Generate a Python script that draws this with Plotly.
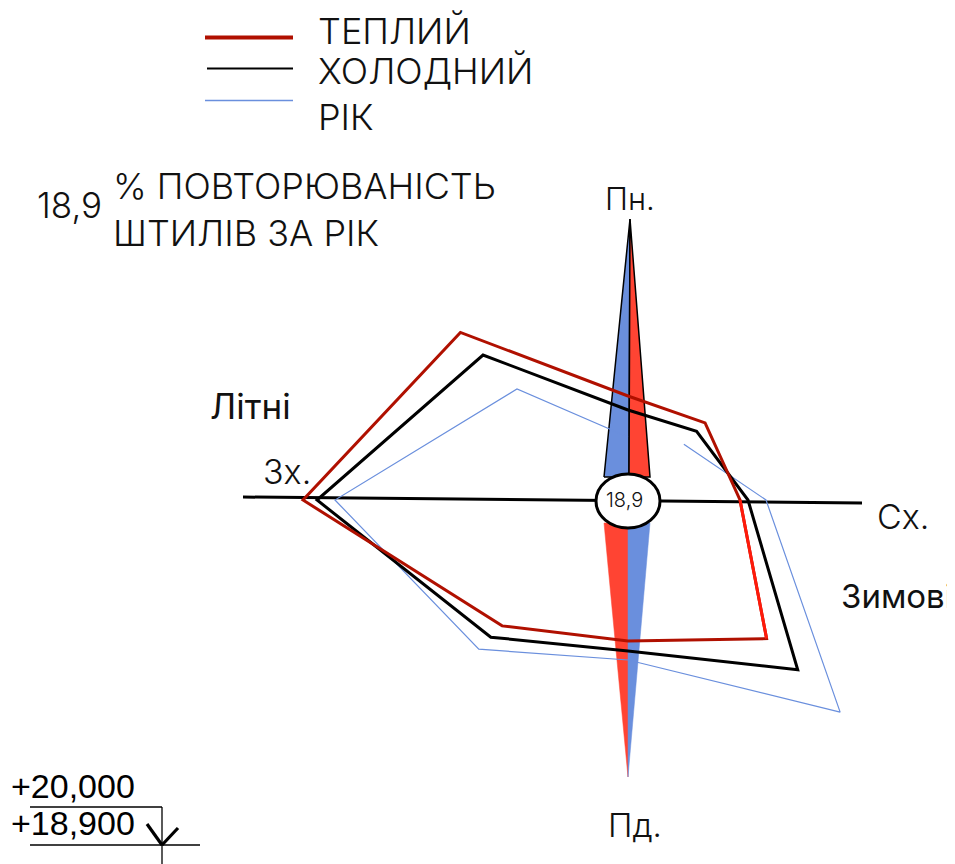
import numpy as np
import plotly.graph_objects as go

# ---------------- data ----------------
directions = ["Пн.", "ПнСх.", "Сх.", "ПдСх.", "Пд.", "ПдЗх.", "Зх.", "ПнЗх."]
angles_deg = [0, 45, 90, 135, 180, 225, 270, 315]
warm_season = [10.4, 10.9, 11.2, 19.6, 14.1, 17.8, 32.5, 23.7]   # ТЕПЛИЙ
cold_season = [9.0, 9.7, 12.0, 24.0, 15.1, 19.4, 31.1, 20.5]     # ХОЛОДНИЙ
whole_year = [6.3, 7.9, 13.8, 30.0, 16.0, 21.1, 29.3, 15.7]      # РІК
calm_label = "18,9"
needle_lengths = [28.1, 27.7]          # north / south needle
needle_base = [2.3, 2.2]               # base radius, half width
axis_extent = [38.5, 23.4]             # west / east ends of E-W axis line
level_labels = ["+20,000", "+18,900"]
legend_labels = ["ТЕПЛИЙ", "ХОЛОДНИЙ", "РІК"]

# --------------- helpers ---------------
OFF = 8                  # page body margin
WF, HF = 955 - OFF, 864 - OFF
CX, CY = 628, 500        # pixel position of rose centre (page pixels)
S = 10.0                 # pixels per unit


def px(x, y):
    return (x - CX) / S, (CY - y) / S


def polar_xy(r, deg):
    a = np.radians(np.asarray(deg, dtype=float))
    r = np.asarray(r, dtype=float)
    return r * np.sin(a), r * np.cos(a)


DARK_RED = "#b01000"
BRIGHT_RED = "#ff1a0a"
BLUE = "#6a8fdd"
NEEDLE_RED = "#ff4433"

fig = go.Figure()

# E-W axis line
fig.add_trace(go.Scatter(x=[-axis_extent[0], axis_extent[1]], y=[0.3, -0.3],
                         mode="lines", line=dict(color="black", width=3),
                         hoverinfo="skip", showlegend=False))

# Needle
nl, sl = needle_lengths
br, hw = needle_base
fig.add_trace(go.Scatter(x=[-hw - 0.2, 0.2, 0.1, -hw - 0.2], y=[br, nl, br, br], fill="toself",
                         fillcolor=BLUE, mode="lines", line=dict(color="black", width=1.5),
                         hoverinfo="skip", showlegend=False))
fig.add_trace(go.Scatter(x=[0.1, 0.2, hw, 0.1], y=[br, nl, br, br], fill="toself",
                         fillcolor=NEEDLE_RED, mode="lines", line=dict(color="black", width=1.5),
                         hoverinfo="skip", showlegend=False))
fig.add_trace(go.Scatter(x=[-hw - 0.2, 0, 0, -hw - 0.2], y=[-br, -sl, -br, -br], fill="toself",
                         fillcolor=NEEDLE_RED, mode="lines", line=dict(color=NEEDLE_RED, width=0.5),
                         hoverinfo="skip", showlegend=False))
fig.add_trace(go.Scatter(x=[0, 0, hw, 0], y=[-br, -sl, -br, -br], fill="toself",
                         fillcolor=BLUE, mode="lines", line=dict(color=BLUE, width=0.5),
                         hoverinfo="skip", showlegend=False))

# Year (open polyline: segment N -> NE not drawn)
order_year = [1, 2, 3, 4, 5, 6, 7, 0]
yx, yy = polar_xy([whole_year[i] for i in order_year], [angles_deg[i] for i in order_year])
fig.add_trace(go.Scatter(x=yx, y=yy, mode="lines", line=dict(color=BLUE, width=1.2),
                         hoverinfo="skip", showlegend=False))

# Cold season
cx_, cy_ = polar_xy(cold_season + cold_season[:1], angles_deg + angles_deg[:1])
fig.add_trace(go.Scatter(x=cx_, y=cy_, mode="lines", line=dict(color="black", width=3),
                         hoverinfo="skip", showlegend=False))

# Warm season
wx, wy = polar_xy(warm_season + warm_season[:1], angles_deg + angles_deg[:1])
fig.add_trace(go.Scatter(x=wx, y=wy, mode="lines", line=dict(color=DARK_RED, width=3),
                         hoverinfo="skip", showlegend=False))
fig.add_trace(go.Scatter(x=wx[2:4], y=wy[2:4], mode="lines", line=dict(color=BRIGHT_RED, width=3),
                         hoverinfo="skip", showlegend=False))

shapes = []
# centre circle (calm)
x0, y0 = px(596, 474)
x1, y1 = px(660, 528)
shapes.append(dict(type="circle", xref="x", yref="y", x0=x0, x1=x1, y0=y1, y1=y0,
                   fillcolor="white", line=dict(color="black", width=3), layer="above"))

# legend samples
for (xa, xb, yv), col, wd in zip([(205, 293, 37.5), (207, 293, 68.5), (205, 293, 100.5)],
                                 [DARK_RED, "black", BLUE], [4, 2, 1.5]):
    a = px(xa, yv)
    b = px(xb, yv)
    shapes.append(dict(type="line", xref="x", yref="y", x0=a[0], y0=a[1], x1=b[0], y1=b[1],
                       line=dict(color=col, width=wd)))

# level mark (bottom left)
for (xa, ya, xb, yb, wd) in [(30, 807, 162, 807, 1.3), (162, 807, 162, 864, 1.3),
                             (30, 845, 200, 845, 1.3), (147, 824, 162, 845, 3.2),
                             (162, 845, 178, 828, 3.2)]:
    a = px(xa, ya)
    b = px(xb, yb)
    shapes.append(dict(type="line", xref="x", yref="y", x0=a[0], y0=a[1], x1=b[0], y1=b[1],
                       line=dict(color="black", width=wd)))

LIGHT = "Inter"
annotations = []


def add_text(text, x, y, size, xanchor="left", family=LIGHT, weight=300, color="#111", pad=1):
    ax, ay = px(x, y)
    annotations.append(dict(text=text, x=ax, y=ay, xref="x", yref="y", showarrow=False,
                            xanchor=xanchor, yanchor="middle", borderpad=pad,
                            font=dict(family=family, size=size, color=color, weight=weight)))


add_text(legend_labels[0], 316, 31, 36)
add_text(legend_labels[1], 316, 71, 36)
add_text(legend_labels[2], 316, 117, 36)
add_text(calm_label, 35, 205, 35)
add_text("% ПОВТОРЮВАНІСТЬ", 111, 186, 36)
add_text("ШТИЛІВ ЗА РІК", 111, 233, 36)
add_text(directions[0], 630, 198, 31, xanchor="center")
add_text(directions[4], 635, 825, 33, xanchor="center")
add_text(directions[6], 261, 471, 34)
add_text(directions[2], 875, 516, 34)
add_text("Зимові", 839, 596, 33, weight=400)
add_text("Літні", 208, 406, 35, weight=400)
add_text(calm_label, 624, 500, 20, xanchor="center")
add_text(level_labels[0], 10, 786, 34, family="Liberation Sans", weight=400, color="black", pad=0)
add_text(level_labels[1], 10, 823, 34, family="Liberation Sans", weight=400, color="black", pad=0)

xr0, yr1 = px(OFF, OFF)
xr1, yr0 = px(OFF + WF, OFF + HF)
fig.update_layout(
    width=WF, height=HF,
    margin=dict(l=0, r=0, t=0, b=0),
    paper_bgcolor="white", plot_bgcolor="white",
    xaxis=dict(range=[xr0, xr1], visible=False, fixedrange=True),
    yaxis=dict(range=[yr0, yr1], visible=False, fixedrange=True),
    shapes=shapes, annotations=annotations, showlegend=False,
)

fig.write_html("out.html")
